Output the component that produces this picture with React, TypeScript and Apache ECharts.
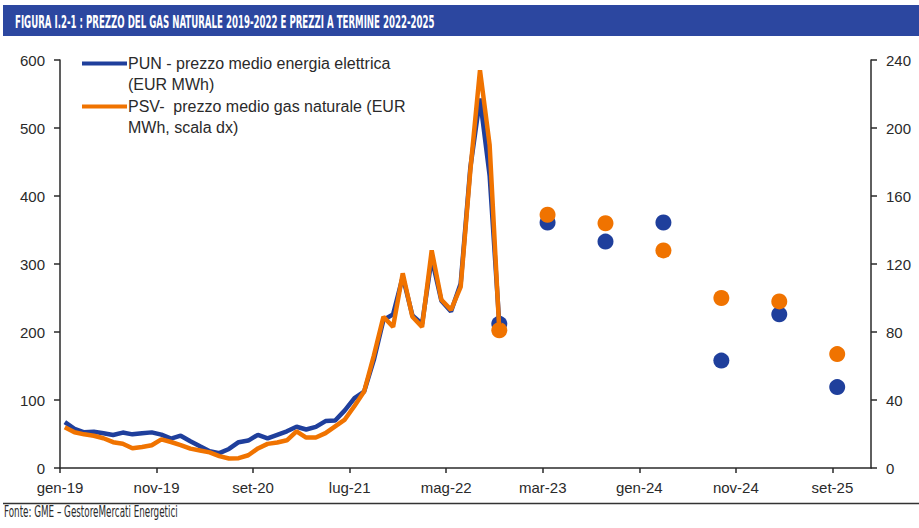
import React, { useEffect, useRef } from "react";
import * as echarts from "echarts";

// ---------- DATA ----------
const titleText = "FIGURA I.2-1 : PREZZO DEL GAS NATURALE 2019-2022 E PREZZI A TERMINE 2022-2025";
const sourceText = "Fonte: GME \u2013 GestoreMercati Energetici";
const punName = "PUN - prezzo medio energia elettrica";
const punNameLine2 = "(EUR MWh)";
const psvName = "PSV-  prezzo medio gas naturale (EUR";
const psvNameLine2 = "MWh, scala dx)";

const monthAbbr = ["gen", "feb", "mar", "apr", "mag", "giu", "lug", "ago", "set", "ott", "nov", "dic"];
const firstYear = 19; // series start at gen-19

// x-axis tick labels (every 10 months, starting gen-19)
const tickLabels = ["gen-19", "nov-19", "set-20", "lug-21", "mag-22", "mar-23", "gen-24", "nov-24", "set-25"];
const tickStep = 10;
const axisMonths = 84; // gen-19 .. gen-26

// Monthly PUN (EUR/MWh) from gen-19 to ott-22 (left axis)
const punMonthly = [
  67.6, 57.7, 52.4, 53.4, 51.0, 48.6, 52.1, 49.5, 51.2, 52.4, 49.0, 43.2,
  47.5, 39.3, 32.0, 24.8, 21.8, 28.0, 38.0, 40.3, 48.8, 43.6, 48.8, 54.0,
  60.7, 56.6, 60.4, 69.0, 69.9, 84.8, 102.7, 112.4, 158.6, 217.6, 226.0, 281.2,
  224.5, 211.7, 308.1, 246.0, 230.1, 271.3, 441.7, 543.2, 429.9, 212.0,
];
// Monthly PSV (EUR/MWh) from gen-19 to ott-22 (right axis)
const psvMonthly = [
  24.0, 21.0, 19.8, 19.0, 17.5, 15.2, 14.3, 11.6, 12.4, 13.4, 16.8, 15.3,
  13.5, 11.4, 10.3, 9.2, 7.0, 5.6, 5.8, 7.5, 11.5, 14.2, 15.0, 16.3,
  21.6, 17.9, 17.9, 20.5, 24.5, 28.5, 36.5, 45.0, 66.0, 89.0, 83.0, 114.5,
  89.0, 83.0, 128.0, 99.0, 93.0, 106.5, 175.0, 234.0, 190.0, 81.0,
];

// Forward prices (semesters)
const forwardMonths = ["mar-23", "set-23", "mar-24", "set-24", "mar-25", "set-25"];
const punForward = [361, 333, 361, 158, 226, 119];
const psvForward = [149, 144, 128, 100, 98, 67];

// ---------- COLOURS ----------
const BLUE = "#1F3F9C";
const ORANGE = "#F07300";
const TITLE_BG = "#2C47A0";
const AXIS = "#2a2a2a";

function monthIndex(label: string): number {
  const [m, y] = label.split("-");
  return (parseInt(y, 10) - firstYear) * 12 + monthAbbr.indexOf(m);
}

function measure(text: string, font: string): number {
  const c = document.createElement("canvas");
  const ctx = c.getContext("2d");
  if (!ctx) return text.length * 8;
  ctx.font = font;
  return ctx.measureText(text).width;
}

export default function App() {
  const ref = useRef<HTMLDivElement>(null);

  useEffect(() => {
    if (!ref.current) return;
    const chart = echarts.init(ref.current, undefined, { renderer: "svg" });

    const punLine = punMonthly.map((v, i) => [i + 0.5, v]);
    const psvLine = psvMonthly.map((v, i) => [i + 0.5, v]);
    const lastIdx = punMonthly.length - 1;
    const punDots = [[lastIdx + 0.5, punMonthly[lastIdx]]].concat(
      forwardMonths.map((m, i) => [monthIndex(m) + 0.5, punForward[i]])
    );
    const psvDots = [[lastIdx + 0.5, psvMonthly[lastIdx]]].concat(
      forwardMonths.map((m, i) => [monthIndex(m) + 0.5, psvForward[i]])
    );
    const tickValues = tickLabels.map((_, i) => i * tickStep);

    const titleFont = "bold 17px 'DejaVu Sans Condensed'";
    const titleScale = 420 / measure(titleText, titleFont);
    const srcFont = "15px 'DejaVu Sans Condensed'";
    const srcScale = 174 / measure(sourceText, srcFont);

    const labelStyle = {
      color: AXIS,
      fontSize: 15,
      fontFamily: "'Liberation Sans', Arial, sans-serif",
    };
    const legendFont = "16px 'Liberation Sans', Arial, sans-serif";

    const option: any = {
      animation: false,
      grid: { left: 60, right: 48, top: 60, bottom: 60 },
      xAxis: {
        type: "value",
        min: 0,
        max: axisMonths,
        interval: tickStep,
        axisLine: { show: true, onZero: false, lineStyle: { color: AXIS, width: 1.5 } },
        axisTick: { show: true, length: 5, customValues: tickValues, lineStyle: { color: AXIS, width: 1.5 } },
        axisLabel: {
          ...labelStyle,
          margin: 12,
          customValues: tickValues,
          formatter: (v: number) => tickLabels[Math.round(v / tickStep)] ?? "",
        },
        splitLine: { show: false },
      },
      yAxis: [
        {
          type: "value",
          position: "left",
          min: 0,
          max: 600,
          interval: 100,
          axisLine: { show: true, lineStyle: { color: AXIS, width: 1.5 } },
          axisTick: { show: true, length: 6, lineStyle: { color: AXIS, width: 1.5 } },
          axisLabel: { ...labelStyle, margin: 15 },
          splitLine: { show: false },
        },
        {
          type: "value",
          position: "right",
          min: 0,
          max: 240,
          interval: 40,
          axisLine: { show: true, lineStyle: { color: AXIS, width: 1.5 } },
          axisTick: { show: true, length: 6, lineStyle: { color: AXIS, width: 1.5 } },
          axisLabel: { ...labelStyle, margin: 15 },
          splitLine: { show: false },
        },
      ],
      series: [
        {
          name: punName,
          type: "line",
          yAxisIndex: 0,
          data: punLine,
          symbol: "none",
          lineStyle: { color: BLUE, width: 4.5 },
          itemStyle: { color: BLUE },
        },
        {
          name: psvName,
          type: "line",
          yAxisIndex: 1,
          data: psvLine,
          symbol: "none",
          lineStyle: { color: ORANGE, width: 4.5 },
          itemStyle: { color: ORANGE },
        },
        {
          name: punName + " (termine)",
          type: "scatter",
          yAxisIndex: 0,
          data: punDots,
          symbolSize: 16,
          itemStyle: { color: BLUE, opacity: 1 },
        },
        {
          name: psvName + " (termine)",
          type: "scatter",
          yAxisIndex: 1,
          data: psvDots,
          symbolSize: 16,
          itemStyle: { color: ORANGE, opacity: 1 },
        },
      ],
      graphic: [
        { type: "rect", shape: { x: 3, y: 5, width: 916, height: 31 }, style: { fill: TITLE_BG } },
        {
          type: "text",
          x: 15,
          y: 21.5,
          scaleX: titleScale,
          style: {
            text: titleText,
            font: titleFont,
            fill: "#ffffff",
            textAlign: "left",
            textVerticalAlign: "middle",
          },
        },
        // legend
        { type: "line", shape: { x1: 82, y1: 63.5, x2: 127, y2: 63.5 }, style: { stroke: BLUE, lineWidth: 4 } },
        {
          type: "text",
          x: 128,
          y: 63.5,
          style: { text: punName, font: legendFont, fill: AXIS, textAlign: "left", textVerticalAlign: "middle" },
        },
        {
          type: "text",
          x: 128,
          y: 84,
          style: { text: punNameLine2, font: legendFont, fill: AXIS, textAlign: "left", textVerticalAlign: "middle" },
        },
        { type: "line", shape: { x1: 82, y1: 106.5, x2: 127, y2: 106.5 }, style: { stroke: ORANGE, lineWidth: 4 } },
        {
          type: "text",
          x: 128,
          y: 106.5,
          style: { text: psvName, font: legendFont, fill: AXIS, textAlign: "left", textVerticalAlign: "middle" },
        },
        {
          type: "text",
          x: 128,
          y: 127,
          style: { text: psvNameLine2, font: legendFont, fill: AXIS, textAlign: "left", textVerticalAlign: "middle" },
        },
        // footer
        { type: "line", shape: { x1: 3, y1: 503.5, x2: 919, y2: 503.5 }, style: { stroke: "#333333", lineWidth: 1.5 } },
        {
          type: "text",
          x: 4,
          y: 512,
          scaleX: srcScale,
          style: { text: sourceText, font: srcFont, fill: AXIS, textAlign: "left", textVerticalAlign: "middle" },
        },
      ],
    };

    chart.setOption(option);
    return () => chart.dispose();
  }, []);

  return (
    <div
      ref={ref}
      style={{ position: "absolute", left: 0, top: 0, width: 919, height: 528, background: "#ffffff" }}
    />
  );
}
